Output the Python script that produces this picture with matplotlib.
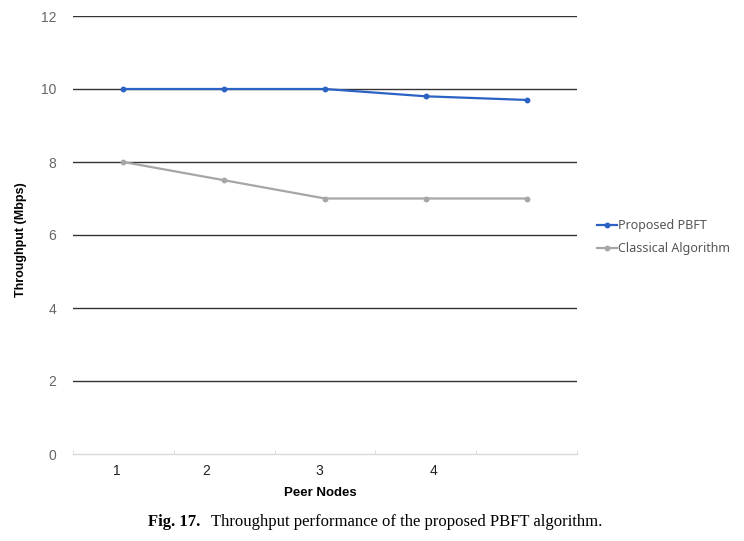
import matplotlib.pyplot as plt
import numpy as np

plt.rcParams['font.family'] = ['Liberation Sans', 'DejaVu Sans']

# data
peer_nodes = [1, 2, 3, 4, 5]
proposed_pbft = [10, 10, 10, 9.8, 9.7]
classical = [8, 7.5, 7, 7, 7]
tick_labels = ['1', '2', '3', '4']
y_ticks = [0, 2, 4, 6, 8, 10, 12]

# the category labels in the source sit off-centre; place them where they appear
label_pos = [0.43, 1.32, 2.44, 3.58]

BLUE = '#2a63c4'
GRAY = '#a6a6a6'

fig = plt.figure(figsize=(7.44, 5.41), dpi=100)
ax = fig.add_axes([73 / 744, (541 - 454) / 541, 504 / 744, 438 / 541])

x = np.arange(len(peer_nodes)) + 0.5
ax.plot(x, proposed_pbft, color=BLUE, lw=1.6, marker='o', ms=3.2, label='Proposed PBFT', zorder=4)
ax.plot(x, classical, color=GRAY, lw=1.6, marker='o', ms=3.2, label='Classical Algorithm', zorder=3)

ax.set_xlim(0, 5)
ax.set_ylim(0, 12)

# horizontal grid lines
for yv in y_ticks[1:]:
    ax.axhline(yv, color='#333333', lw=1, zorder=1)

for s in ['top', 'right', 'left']:
    ax.spines[s].set_visible(False)
ax.spines['bottom'].set_color('#d9d9d9')
ax.spines['bottom'].set_linewidth(1)

ax.set_yticks(y_ticks)
ax.set_yticklabels([str(v) for v in y_ticks], color='#666666', fontsize=10)
ax.tick_params(axis='y', length=0, pad=12)

ax.set_xticks(label_pos)
ax.set_xticklabels(tick_labels, fontsize=10, color='#222222')
ax.set_xticks(np.arange(0, 6), minor=True)
ax.tick_params(axis='x', which='major', length=0, pad=7)
ax.tick_params(axis='x', which='minor', length=3, color='#d9d9d9', direction='in')

ax.set_xlabel('Peer Nodes', fontsize=9.5, fontweight='bold')
ax.xaxis.set_label_coords(0.49, -0.075)
ax.set_ylabel('Throughput (Mbps)', fontsize=9, fontweight='bold')
ax.yaxis.set_label_coords(-0.091, 0.489)

fig.legend(loc='upper left', bbox_to_anchor=(592 / 744, 1 - 214 / 541),
           frameon=False, handlelength=1.6, handletextpad=0.1,
           labelspacing=0.8, borderaxespad=0, labelcolor='#555555',
           prop={'family': 'Noto Sans', 'size': 9})

fig.text(148 / 744, 1 - 522 / 541, 'Fig. 17.', ha='left', va='center',
         fontsize=12, fontweight='bold', family='Liberation Serif')
fig.text(211 / 744, 1 - 522 / 541,
         'Throughput performance of the proposed PBFT algorithm.',
         ha='left', va='center', fontsize=12, family='Liberation Serif')

fig.savefig('out.png', dpi=100, facecolor='white')
